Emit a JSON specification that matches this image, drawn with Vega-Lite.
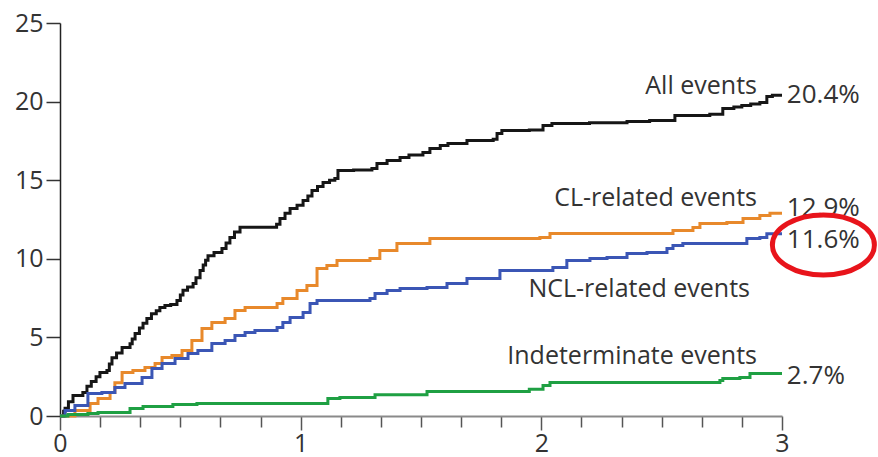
{
  "$schema": "https://vega.github.io/schema/vega-lite/v6.json",
  "width": 722,
  "height": 393,
  "autosize": "none",
  "padding": {"left": 60, "top": 23, "right": 96, "bottom": 41},
  "background": "white",
  "config": {"view": {"stroke": null}, "font": "Open Sans"},
  "datasets": {
    "curves": [
      {"series": "All", "t": 0, "pct": 0}, {"series": "All", "t": 0.015, "pct": 0.3}, {"series": "All", "t": 0.021, "pct": 0.5}, {"series": "All", "t": 0.035, "pct": 0.9}, {"series": "All", "t": 0.054, "pct": 1.3}, {"series": "All", "t": 0.095, "pct": 1.5}, {"series": "All", "t": 0.112, "pct": 1.9}, {"series": "All", "t": 0.13, "pct": 2.2}, {"series": "All", "t": 0.15, "pct": 2.5}, {"series": "All", "t": 0.166, "pct": 2.77}, {"series": "All", "t": 0.195, "pct": 2.9}, {"series": "All", "t": 0.205, "pct": 3.3}, {"series": "All", "t": 0.216, "pct": 3.7}, {"series": "All", "t": 0.235, "pct": 4.0}, {"series": "All", "t": 0.258, "pct": 4.35}, {"series": "All", "t": 0.291, "pct": 4.6}, {"series": "All", "t": 0.3, "pct": 4.9}, {"series": "All", "t": 0.312, "pct": 5.25}, {"series": "All", "t": 0.33, "pct": 5.6}, {"series": "All", "t": 0.345, "pct": 5.9}, {"series": "All", "t": 0.361, "pct": 6.2}, {"series": "All", "t": 0.38, "pct": 6.5}, {"series": "All", "t": 0.4, "pct": 6.7}, {"series": "All", "t": 0.415, "pct": 6.9}, {"series": "All", "t": 0.436, "pct": 7.03}, {"series": "All", "t": 0.46, "pct": 7.1}, {"series": "All", "t": 0.486, "pct": 7.35}, {"series": "All", "t": 0.5, "pct": 7.7}, {"series": "All", "t": 0.511, "pct": 8.0}, {"series": "All", "t": 0.53, "pct": 8.2}, {"series": "All", "t": 0.553, "pct": 8.43}, {"series": "All", "t": 0.565, "pct": 8.8}, {"series": "All", "t": 0.582, "pct": 9.26}, {"series": "All", "t": 0.595, "pct": 9.6}, {"series": "All", "t": 0.605, "pct": 9.9}, {"series": "All", "t": 0.615, "pct": 10.2}, {"series": "All", "t": 0.64, "pct": 10.4}, {"series": "All", "t": 0.673, "pct": 10.65}, {"series": "All", "t": 0.69, "pct": 11.0}, {"series": "All", "t": 0.706, "pct": 11.35}, {"series": "All", "t": 0.725, "pct": 11.7}, {"series": "All", "t": 0.748, "pct": 12.0}, {"series": "All", "t": 0.9, "pct": 12.2}, {"series": "All", "t": 0.914, "pct": 12.56}, {"series": "All", "t": 0.935, "pct": 12.9}, {"series": "All", "t": 0.956, "pct": 13.2}, {"series": "All", "t": 0.985, "pct": 13.4}, {"series": "All", "t": 1.01, "pct": 13.71}, {"series": "All", "t": 1.03, "pct": 14.0}, {"series": "All", "t": 1.047, "pct": 14.34}, {"series": "All", "t": 1.07, "pct": 14.6}, {"series": "All", "t": 1.093, "pct": 14.85}, {"series": "All", "t": 1.12, "pct": 15.0}, {"series": "All", "t": 1.142, "pct": 15.11}, {"series": "All", "t": 1.155, "pct": 15.62}, {"series": "All", "t": 1.22, "pct": 15.65}, {"series": "All", "t": 1.296, "pct": 15.74}, {"series": "All", "t": 1.317, "pct": 16.06}, {"series": "All", "t": 1.359, "pct": 16.25}, {"series": "All", "t": 1.413, "pct": 16.44}, {"series": "All", "t": 1.45, "pct": 16.6}, {"series": "All", "t": 1.508, "pct": 16.76}, {"series": "All", "t": 1.537, "pct": 17.02}, {"series": "All", "t": 1.58, "pct": 17.2}, {"series": "All", "t": 1.612, "pct": 17.34}, {"series": "All", "t": 1.691, "pct": 17.53}, {"series": "All", "t": 1.8, "pct": 17.6}, {"series": "All", "t": 1.816, "pct": 17.97}, {"series": "All", "t": 1.836, "pct": 18.16}, {"series": "All", "t": 1.95, "pct": 18.2}, {"series": "All", "t": 2.007, "pct": 18.48}, {"series": "All", "t": 2.044, "pct": 18.61}, {"series": "All", "t": 2.2, "pct": 18.65}, {"series": "All", "t": 2.356, "pct": 18.73}, {"series": "All", "t": 2.45, "pct": 18.8}, {"series": "All", "t": 2.555, "pct": 19.11}, {"series": "All", "t": 2.7, "pct": 19.2}, {"series": "All", "t": 2.754, "pct": 19.56}, {"series": "All", "t": 2.8, "pct": 19.65}, {"series": "All", "t": 2.833, "pct": 19.75}, {"series": "All", "t": 2.87, "pct": 19.85}, {"series": "All", "t": 2.908, "pct": 19.94}, {"series": "All", "t": 2.937, "pct": 20.32}, {"series": "All", "t": 2.96, "pct": 20.4}, {"series": "All", "t": 3.0, "pct": 20.4},

      {"series": "CL", "t": 0, "pct": 0}, {"series": "CL", "t": 0.062, "pct": 0.35}, {"series": "CL", "t": 0.125, "pct": 0.8}, {"series": "CL", "t": 0.158, "pct": 1.11}, {"series": "CL", "t": 0.208, "pct": 1.49}, {"series": "CL", "t": 0.228, "pct": 2.12}, {"series": "CL", "t": 0.258, "pct": 2.77}, {"series": "CL", "t": 0.303, "pct": 2.89}, {"series": "CL", "t": 0.353, "pct": 3.08}, {"series": "CL", "t": 0.395, "pct": 3.34}, {"series": "CL", "t": 0.424, "pct": 3.72}, {"series": "CL", "t": 0.465, "pct": 3.85}, {"series": "CL", "t": 0.507, "pct": 4.17}, {"series": "CL", "t": 0.548, "pct": 4.8}, {"series": "CL", "t": 0.59, "pct": 5.57}, {"series": "CL", "t": 0.631, "pct": 5.95}, {"series": "CL", "t": 0.686, "pct": 6.2}, {"series": "CL", "t": 0.727, "pct": 6.71}, {"series": "CL", "t": 0.769, "pct": 6.9}, {"series": "CL", "t": 0.902, "pct": 7.16}, {"series": "CL", "t": 0.926, "pct": 7.47}, {"series": "CL", "t": 0.985, "pct": 7.98}, {"series": "CL", "t": 1.026, "pct": 8.3}, {"series": "CL", "t": 1.068, "pct": 9.38}, {"series": "CL", "t": 1.109, "pct": 9.57}, {"series": "CL", "t": 1.151, "pct": 9.89}, {"series": "CL", "t": 1.288, "pct": 10.02}, {"series": "CL", "t": 1.329, "pct": 10.53}, {"series": "CL", "t": 1.4, "pct": 10.97}, {"series": "CL", "t": 1.537, "pct": 11.29}, {"series": "CL", "t": 1.994, "pct": 11.35}, {"series": "CL", "t": 2.036, "pct": 11.61}, {"series": "CL", "t": 2.547, "pct": 11.8}, {"series": "CL", "t": 2.63, "pct": 11.99}, {"series": "CL", "t": 2.659, "pct": 12.25}, {"series": "CL", "t": 2.771, "pct": 12.31}, {"series": "CL", "t": 2.838, "pct": 12.56}, {"series": "CL", "t": 2.908, "pct": 12.75}, {"series": "CL", "t": 2.95, "pct": 12.9}, {"series": "CL", "t": 3.0, "pct": 12.9},

      {"series": "NCL", "t": 0, "pct": 0}, {"series": "NCL", "t": 0.021, "pct": 0.35}, {"series": "NCL", "t": 0.062, "pct": 0.67}, {"series": "NCL", "t": 0.116, "pct": 1.43}, {"series": "NCL", "t": 0.174, "pct": 1.49}, {"series": "NCL", "t": 0.228, "pct": 1.81}, {"series": "NCL", "t": 0.27, "pct": 2.07}, {"series": "NCL", "t": 0.341, "pct": 2.45}, {"series": "NCL", "t": 0.382, "pct": 3.02}, {"series": "NCL", "t": 0.424, "pct": 3.34}, {"series": "NCL", "t": 0.478, "pct": 3.66}, {"series": "NCL", "t": 0.532, "pct": 3.98}, {"series": "NCL", "t": 0.573, "pct": 4.17}, {"series": "NCL", "t": 0.631, "pct": 4.61}, {"series": "NCL", "t": 0.686, "pct": 4.8}, {"series": "NCL", "t": 0.727, "pct": 5.12}, {"series": "NCL", "t": 0.769, "pct": 5.31}, {"series": "NCL", "t": 0.81, "pct": 5.44}, {"series": "NCL", "t": 0.902, "pct": 5.63}, {"series": "NCL", "t": 0.926, "pct": 5.95}, {"series": "NCL", "t": 0.956, "pct": 6.27}, {"series": "NCL", "t": 1.01, "pct": 6.58}, {"series": "NCL", "t": 1.039, "pct": 7.16}, {"series": "NCL", "t": 1.068, "pct": 7.35}, {"series": "NCL", "t": 1.288, "pct": 7.47}, {"series": "NCL", "t": 1.309, "pct": 7.79}, {"series": "NCL", "t": 1.359, "pct": 7.98}, {"series": "NCL", "t": 1.413, "pct": 8.11}, {"series": "NCL", "t": 1.525, "pct": 8.17}, {"series": "NCL", "t": 1.608, "pct": 8.43}, {"series": "NCL", "t": 1.691, "pct": 8.75}, {"series": "NCL", "t": 1.828, "pct": 9.26}, {"series": "NCL", "t": 2.048, "pct": 9.45}, {"series": "NCL", "t": 2.106, "pct": 9.89}, {"series": "NCL", "t": 2.202, "pct": 10.02}, {"series": "NCL", "t": 2.273, "pct": 10.08}, {"series": "NCL", "t": 2.356, "pct": 10.34}, {"series": "NCL", "t": 2.439, "pct": 10.4}, {"series": "NCL", "t": 2.522, "pct": 10.65}, {"series": "NCL", "t": 2.547, "pct": 10.85}, {"series": "NCL", "t": 2.588, "pct": 10.97}, {"series": "NCL", "t": 2.854, "pct": 11.29}, {"series": "NCL", "t": 2.908, "pct": 11.35}, {"series": "NCL", "t": 2.937, "pct": 11.6}, {"series": "NCL", "t": 3.0, "pct": 11.6},

      {"series": "Ind", "t": 0, "pct": 0}, {"series": "Ind", "t": 0.033, "pct": 0.1}, {"series": "Ind", "t": 0.116, "pct": 0.16}, {"series": "Ind", "t": 0.158, "pct": 0.22}, {"series": "Ind", "t": 0.291, "pct": 0.48}, {"series": "Ind", "t": 0.345, "pct": 0.6}, {"series": "Ind", "t": 0.469, "pct": 0.73}, {"series": "Ind", "t": 0.569, "pct": 0.8}, {"series": "Ind", "t": 1.109, "pct": 0.8}, {"series": "Ind", "t": 1.113, "pct": 1.11}, {"series": "Ind", "t": 1.163, "pct": 1.18}, {"series": "Ind", "t": 1.309, "pct": 1.35}, {"series": "Ind", "t": 1.525, "pct": 1.56}, {"series": "Ind", "t": 1.95, "pct": 1.7}, {"series": "Ind", "t": 2.007, "pct": 1.94}, {"series": "Ind", "t": 2.036, "pct": 2.13}, {"series": "Ind", "t": 2.742, "pct": 2.26}, {"series": "Ind", "t": 2.754, "pct": 2.39}, {"series": "Ind", "t": 2.825, "pct": 2.45}, {"series": "Ind", "t": 2.867, "pct": 2.7}, {"series": "Ind", "t": 3.0, "pct": 2.7}
    ],
    "names": [
      {"t": 2.896, "pct": 21.0, "label": "All events"},
      {"t": 2.896, "pct": 13.84, "label": "CL-related events"},
      {"t": 2.867, "pct": 8.05, "label": "NCL-related events"},
      {"t": 2.896, "pct": 3.79, "label": "Indeterminate events"}
    ],
    "values": [
      {"t": 3.02, "pct": 20.45, "label": "20.4%"},
      {"t": 3.02, "pct": 13.2, "label": "12.9%"},
      {"t": 3.02, "pct": 11.2, "label": "11.6%"},
      {"t": 3.02, "pct": 2.56, "label": "2.7%"}
    ],
    "mark": [
      {"t": 3.172, "pct": 10.88}
    ]
  },
  "layer": [
    {
      "data": {"name": "curves"},
      "mark": {"type": "line", "interpolate": "step-after", "clip": false},
      "encoding": {
        "x": {
          "field": "t", "type": "quantitative",
          "scale": {"domain": [0, 3], "nice": false, "zero": false},
          "axis": {
            "title": null,
            "values": [0, 0.16667, 0.33333, 0.5, 0.66667, 0.83333, 1, 1.16667, 1.33333, 1.5, 1.66667, 1.83333, 2, 2.16667, 2.33333, 2.5, 2.66667, 2.83333, 3],
            "labelExpr": "abs(datum.value - round(datum.value)) < 0.01 ? format(round(datum.value), 'd') : ''",
            "grid": false,
            "domainColor": "#8a8a8a",
            "domainWidth": 2,
            "tickColor": "#555",
            "tickWidth": 1.5,
            "tickSize": {"condition": {"test": "abs(datum.value - round(datum.value)) < 0.01", "value": 14}, "value": 11},
            "labelPadding": 1,
            "labelFontSize": 25,
            "labelColor": "#333",
            "labelFont": "Open Sans",
            "labelFlush": false
          }
        },
        "y": {
          "field": "pct", "type": "quantitative",
          "scale": {"domain": [0, 25], "nice": false},
          "axis": {
            "title": null,
            "values": [0, 5, 10, 15, 20, 25],
            "grid": false,
            "domainColor": "#222",
            "domainWidth": 1.5,
            "tickColor": "#333",
            "tickWidth": 1.5,
            "tickSize": 14,
            "labelPadding": 3,
            "labelFontSize": 25,
            "labelColor": "#333",
            "labelFont": "Open Sans"
          }
        },
        "color": {
          "field": "series", "type": "nominal",
          "scale": {"domain": ["Ind", "NCL", "CL", "All"], "range": ["#1fa043", "#3b56b5", "#e8892b", "#161616"]},
          "legend": null
        },
        "strokeWidth": {
          "field": "series", "type": "nominal",
          "scale": {"domain": ["Ind", "NCL", "CL", "All"], "range": [3, 3, 2.5, 5]},
          "legend": null
        }
      }
    },
    {
      "data": {"name": "names"},
      "mark": {"type": "text", "align": "right", "baseline": "middle", "fontSize": 25, "font": "Open Sans", "color": "#333"},
      "encoding": {
        "x": {"field": "t", "type": "quantitative"},
        "y": {"field": "pct", "type": "quantitative"},
        "text": {"field": "label"}
      }
    },
    {
      "data": {"name": "values"},
      "mark": {"type": "text", "align": "left", "baseline": "middle", "fontSize": 26, "font": "Open Sans", "color": "#333"},
      "encoding": {
        "x": {"field": "t", "type": "quantitative"},
        "y": {"field": "pct", "type": "quantitative"},
        "text": {"field": "label"}
      }
    },
    {
      "data": {"name": "mark"},
      "mark": {"type": "point", "shape": "M -1 0 A 1 0.59 0 1 0 1 0 A 1 0.59 0 1 0 -1 0 Z", "filled": false, "stroke": "#e8141b", "strokeWidth": 5, "opacity": 1, "size": 10404, "clip": false},
      "encoding": {
        "x": {"field": "t", "type": "quantitative"},
        "y": {"field": "pct", "type": "quantitative"}
      }
    }
  ]
}
